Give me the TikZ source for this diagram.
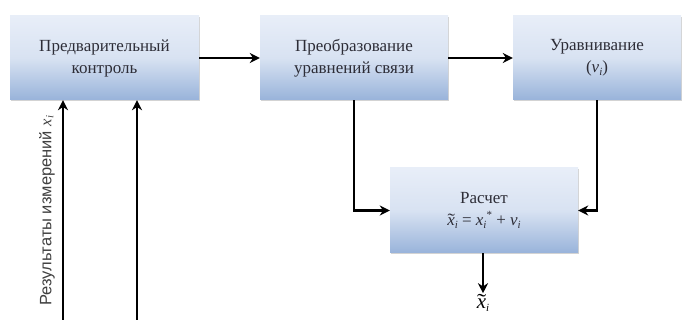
\documentclass[tikz,border=0pt]{standalone}
\usepackage{fontspec}
\usepackage{graphicx}
\setmainfont{Liberation Serif}
\newfontfamily\lsans{Liberation Sans}
\usetikzlibrary{arrows.meta,shadows}
\definecolor{boxlight}{RGB}{232,238,248}
\definecolor{boxdark}{RGB}{152,179,218}
\definecolor{txt}{RGB}{45,45,55}
\newcommand{\mi}[1]{\textit{#1}}
\newcommand{\sbi}{\raisebox{-3pt}{\fontsize{11}{11}\selectfont\mi{i}}}
\newcommand{\tix}{\makebox[0pt][l]{\hspace{0.02em}\scalebox{1.3}[1]{\char"02DC}}\mi{x}}
\tikzset{
  blk/.style={draw=none, top color=boxlight, bottom color=boxdark, middle color=boxlight!80!boxdark,
    drop shadow={shadow xshift=1pt,shadow yshift=-1.5pt,opacity=0.35},
    align=center, font=\fontsize{17}{22}\selectfont, text=txt, inner sep=0pt},
  conn/.style={line width=2.6pt, -{Stealth[length=10pt,width=10pt]}},
}
\begin{document}
\begin{tikzpicture}[x=1pt,y=-1pt]
\useasboundingbox (0,0) rectangle (683,320);
\node[blk, minimum width=189pt, minimum height=84pt] (pk) at (104.5,58) {Предварительный\\контроль};
\node[blk, minimum width=188pt, minimum height=84pt] (pr) at (354,58) {Преобразование\\уравнений связи};
\node[blk, minimum width=168pt, minimum height=84pt] (ur) at (597,58) {Уравнивание\\(\mi{v}\sbi)};
\node[blk, minimum width=188pt, minimum height=85pt] (rs) at (484,210.5) {Расчет\\\tix\sbi{} = \mi{x}\sbi\raisebox{7pt}{\fontsize{11}{11}\selectfont*} + \mi{v}\sbi};
\node[font=\fontsize{21}{21}\selectfont, inner sep=1pt] (res) at (483,303) {\tix\sbi};
\coordinate (in1) at (63,320);
\coordinate (in2) at (137,320);
\draw[conn] (pk) -- (pr);
\draw[conn] (pr) -- (ur);
\draw[conn] (in1) -- (in1 |- pk.south);
\draw[conn] (in2) -- (in2 |- pk.south);
\draw[conn] (pr.south) |- (rs.west);
\draw[conn] (ur.south) |- (rs.east);
\draw[conn] (rs.south -| res) -- (res.north);
\node[rotate=90, anchor=west, font=\lsans\fontsize{16.5}{16.5}\selectfont, text=black!75] (lab) at (47,309) {Результаты измерений \textrm{\mi{x}\raisebox{-2pt}{\fontsize{11}{11}\selectfont\mi{i}}}};
\end{tikzpicture}
\end{document}
